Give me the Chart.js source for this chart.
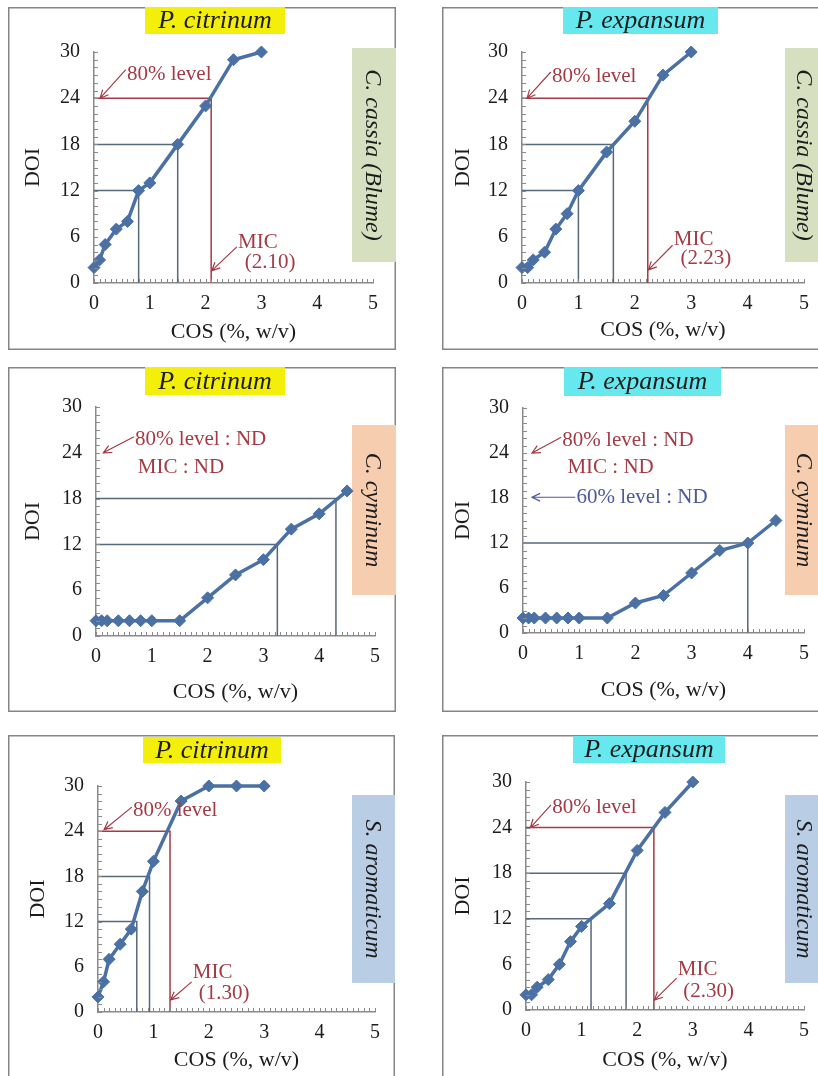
<!DOCTYPE html>
<html>
<head>
<meta charset="utf-8">
<script src="https://cdn.jsdelivr.net/npm/chart.js@4.4.1/dist/chart.umd.min.js"></script>
<style>
  html, body { margin: 0; padding: 0; background: #fff; overflow: hidden; }
  #page { position: relative; width: 818px; height: 1076px; overflow: hidden; }
  #page canvas { position: absolute; }
</style>
</head>
<body>
<div id="page"></div>
<script>
// COS concentrations (%, w/v)
const cosShort = [0, 0.1, 0.2, 0.4, 0.6, 0.8, 1, 1.5, 2, 2.5, 3];
const cosLong = [0, 0.1, 0.2, 0.4, 0.6, 0.8, 1, 1.5, 2, 2.5, 3, 3.5, 4, 4.5];

// DOI values per fungus / oil
const doiCitrinumCassia = [2, 3, 5, 7, 8, 12, 13, 18, 23, 29, 30];
const doiExpansumCassia = [2, 2, 3, 4, 7, 9, 12, 17, 21, 27, 30];
const doiCitrinumCyminum = [2, 2, 2, 2, 2, 2, 2, 2, 5, 8, 10, 14, 16, 19];
const doiExpansumCyminum = [2, 2, 2, 2, 2, 2, 2, 2, 4, 5, 8, 11, 12, 15];
const doiCitrinumAromaticum = [2, 4, 7, 9, 11, 16, 20, 28, 30, 30, 30];
const doiExpansumAromaticum = [2, 2, 3, 4, 6, 9, 11, 14, 21, 26, 30];

// 80%, 60%, 40% DOI levels and the COS where each is reached (null = not reached)
const levelDoi = [24, 18, 12];
const levelCosCitrinumCassia = [2.10, 1.5, 0.8];
const levelCosExpansumCassia = [2.23, 1.62, 1.0];
const levelCosCitrinumCyminum = [null, 4.3, 3.25];
const levelCosExpansumCyminum = [null, null, 4.0];
const levelCosCitrinumAromaticum = [1.30, 0.93, 0.7];
const levelCosExpansumAromaticum = [2.30, 1.8, 1.17];

// axes
const cosMax = 5, cosStep = 1;
const doiMax = 30, doiStep = 6;

const serif = '"Liberation Serif", "Times New Roman", serif';
const lineBlue = '#4a70a4';
const red = '#a33b46';
const refGray = '#56697a';
const axisGray = '#8a8a8a';
const ink = '#1c1c1c';

const panels = [
  { fungus: 'P. citrinum', oil: 'C. cassia (Blume)', cos: cosShort, doi: doiCitrinumCassia, levels: levelCosCitrinumCassia,
    box: [8, 7, 396, 350], plot: [94, 52, 373, 283], doiX: 33, cosY: 332,
    tag: [145, 7, 285, 34], tagColor: '#f3ef0a', side: [352, 48, 393, 262], sideColor: '#d6e0c1',
    notes: [['80% level', 0.59, 27.1, red], ['MIC', 2.58, 5.3, red], ['(2.10)', 2.7, 2.7, red]],
    arrows: [[0.57, 27.7, 0.11, 24.0, red], [2.56, 4.7, 2.11, 1.6, red]] },
  { fungus: 'P. expansum', oil: 'C. cassia (Blume)', cos: cosShort, doi: doiExpansumCassia, levels: levelCosExpansumCassia,
    box: [442, 7, 860, 350], plot: [522, 52, 812, 283], doiX: 463, cosY: 330,
    tag: [563, 7, 718, 34], tagColor: '#66e8ee', side: [785, 48, 822, 262], sideColor: '#d6e0c1',
    notes: [['80% level', 0.53, 26.8, red], ['MIC', 2.69, 5.6, red], ['(2.23)', 2.81, 3.2, red]],
    arrows: [[0.51, 27.4, 0.09, 24.0, red], [2.67, 4.9, 2.24, 1.7, red]] },
  { fungus: 'P. citrinum', oil: 'C. cyminum', cos: cosLong, doi: doiCitrinumCyminum, levels: levelCosCitrinumCyminum,
    box: [8, 367, 396, 712], plot: [96, 407, 375, 636], doiX: 33, cosY: 692,
    tag: [145, 367, 285, 395], tagColor: '#f3ef0a', side: [352, 425, 393, 595], sideColor: '#f7cdb0',
    notes: [['80% level : ND', 0.70, 25.7, red], ['MIC : ND', 0.75, 22.1, red]],
    arrows: [[0.68, 26.1, 0.13, 24.0, red]] },
  { fungus: 'P. expansum', oil: 'C. cyminum', cos: cosLong, doi: doiExpansumCyminum, levels: levelCosExpansumCyminum,
    box: [442, 367, 860, 712], plot: [523, 408, 807, 633], doiX: 463, cosY: 690,
    tag: [564, 367, 721, 396], tagColor: '#66e8ee', side: [785, 425, 822, 595], sideColor: '#f7cdb0',
    notes: [['80% level : ND', 0.70, 25.7, red], ['MIC : ND', 0.79, 22.1, red], ['60% level : ND', 0.95, 18.1, '#4a5a9a']],
    arrows: [[0.68, 26.1, 0.16, 24.0, red], [0.93, 18.1, 0.16, 18.1, '#4a5a9a']] },
  { fungus: 'P. citrinum', oil: 'S. aromaticum', cos: cosShort, doi: doiCitrinumAromaticum, levels: levelCosCitrinumAromaticum,
    box: [8, 735, 395, 1100], plot: [98, 786, 375, 1012], doiX: 38, cosY: 1060,
    tag: [143, 737, 281, 763], tagColor: '#f3ef0a', side: [352, 795, 393, 983], sideColor: '#b9cde5',
    notes: [['80% level', 0.63, 26.8, red], ['MIC', 1.71, 5.3, red], ['(1.30)', 1.82, 2.5, red]],
    arrows: [[0.61, 27.2, 0.11, 24.2, red], [1.69, 4.0, 1.31, 1.6, red]] },
  { fungus: 'P. expansum', oil: 'S. aromaticum', cos: cosShort, doi: doiExpansumAromaticum, levels: levelCosExpansumAromaticum,
    box: [442, 735, 860, 1100], plot: [526, 782, 812, 1010], doiX: 463, cosY: 1060,
    tag: [573, 736, 725, 763], tagColor: '#66e8ee', side: [785, 795, 822, 983], sideColor: '#b9cde5',
    notes: [['80% level', 0.47, 26.7, red], ['MIC', 2.73, 5.3, red], ['(2.30)', 2.83, 2.4, red]],
    arrows: [[0.45, 27.0, 0.08, 24.0, red], [2.71, 4.2, 2.31, 1.3, red]] }
];

function drawArrow(ctx, x1, y1, x2, y2, color) {
  const ang = Math.atan2(y2 - y1, x2 - x1);
  const len = 9, spread = 0.45;
  ctx.strokeStyle = color;
  ctx.lineWidth = 1.2;
  ctx.beginPath();
  ctx.moveTo(x1, y1);
  ctx.lineTo(x2, y2);
  ctx.moveTo(x2 - len * Math.cos(ang - spread), y2 - len * Math.sin(ang - spread));
  ctx.lineTo(x2, y2);
  ctx.lineTo(x2 - len * Math.cos(ang + spread), y2 - len * Math.sin(ang + spread));
  ctx.stroke();
}

function decor(p) {
  return {
    id: 'decor',
    beforeDraw(chart) {
      const ctx = chart.ctx;
      const [bl, bt, br, bb] = p.box;
      ctx.save();
      ctx.fillStyle = '#fff';
      ctx.fillRect(0, 0, chart.width, chart.height);
      ctx.strokeStyle = '#858585';
      ctx.lineWidth = 1.5;
      ctx.strokeRect(0.75, 0.75, br - bl - 1.5, bb - bt - 1.5);

      // fungus tag on top
      const [tl, tt, tr, tb] = p.tag;
      ctx.fillStyle = p.tagColor;
      ctx.fillRect(tl - bl, tt - bt, tr - tl, tb - tt);
      ctx.fillStyle = ink;
      ctx.font = 'italic 26px ' + serif;
      ctx.textAlign = 'center';
      ctx.textBaseline = 'middle';
      ctx.fillText(p.fungus, (tl + tr) / 2 - bl, (tt + tb) / 2 - bt + 1);

      // oil label on the right
      const [sl, st, sr, sb] = p.side;
      ctx.fillStyle = p.sideColor;
      ctx.fillRect(sl - bl, st - bt, Math.max(sr, 830) - sl, sb - st);
      ctx.fillStyle = ink;
      ctx.font = 'italic 24px ' + serif;
      ctx.translate((sl + sr) / 2 - bl, (st + sb) / 2 - bt);
      ctx.rotate(Math.PI / 2);
      ctx.fillText(p.oil, 0, 0);
      ctx.restore();
    },
    afterDraw(chart) {
      const ctx = chart.ctx;
      const xs = chart.scales.x, ys = chart.scales.y;
      ctx.save();
      // minor ticks, inside the axes
      ctx.strokeStyle = axisGray;
      ctx.lineWidth = 1;
      ctx.beginPath();
      for (let v = 0; v <= doiMax; v++) {
        const y = Math.round(ys.getPixelForValue(v)) + 0.5;
        ctx.moveTo(xs.left, y);
        ctx.lineTo(xs.left + 4, y);
      }
      for (let k = 0; k <= cosMax * 10; k++) {
        const x = Math.round(xs.getPixelForValue(k / 10)) + 0.5;
        ctx.moveTo(x, ys.bottom);
        ctx.lineTo(x, ys.bottom - 4);
      }
      ctx.stroke();

      ctx.font = '21px ' + serif;
      ctx.textAlign = 'left';
      ctx.textBaseline = 'middle';
      p.notes.forEach(([text, x, y, color]) => {
        ctx.fillStyle = color;
        ctx.fillText(text, xs.getPixelForValue(x), ys.getPixelForValue(y));
      });
      p.arrows.forEach(([x1, y1, x2, y2, color]) => {
        drawArrow(ctx, xs.getPixelForValue(x1), ys.getPixelForValue(y1),
          xs.getPixelForValue(x2), ys.getPixelForValue(y2), color);
      });
      ctx.restore();
    }
  };
}

const page = document.getElementById('page');
const titleLH = 22 * 1.2;

panels.forEach((p) => {
  const [bl, bt, br, bb] = p.box;
  const [pl, pt, pr, pb] = p.plot;
  const w = Math.min(br, 818) - bl;
  const h = Math.min(bb, 1076) - bt;

  const canvas = document.createElement('canvas');
  canvas.width = w;
  canvas.height = h;
  canvas.style.left = bl + 'px';
  canvas.style.top = bt + 'px';
  canvas.style.width = w + 'px';
  canvas.style.height = h + 'px';
  page.appendChild(canvas);

  const padLeft = p.doiX - bl - titleLH / 2;
  const yW = pl - bl - padLeft;
  const xH = p.cosY - pb + titleLH / 2;
  const padBottom = h - (pb - bt) - xH;
  const padRight = w - (pr - bl);

  const datasets = [{
    data: p.cos.map((x, k) => ({ x, y: p.doi[k] })),
    borderColor: lineBlue,
    backgroundColor: lineBlue,
    borderWidth: 3.5,
    pointStyle: 'rectRot',
    pointRadius: 6,
    pointBorderWidth: 1,
    pointBackgroundColor: lineBlue,
    pointBorderColor: lineBlue,
    tension: 0,
    clip: false,
    order: 0
  }];
  levelDoi.forEach((lv, k) => {
    const c = p.levels[k];
    if (c == null) return;
    datasets.push({
      data: [{ x: 0, y: lv }, { x: c, y: lv }, { x: c, y: 0 }],
      borderColor: k === 0 ? red : refGray,
      borderWidth: 1.5,
      pointRadius: 0,
      tension: 0,
      clip: false,
      order: 1
    });
  });

  new Chart(canvas, {
    type: 'line',
    data: { datasets },
    options: {
      responsive: false,
      animation: false,
      devicePixelRatio: 1,
      layout: { padding: { left: padLeft, right: padRight, top: pt - bt, bottom: padBottom } },
      plugins: { legend: { display: false }, tooltip: { enabled: false } },
      scales: {
        x: {
          type: 'linear',
          min: 0,
          max: cosMax,
          ticks: { stepSize: cosStep, padding: 9, color: ink, font: { family: serif, size: 20 } },
          grid: { display: false, drawTicks: false },
          border: { color: axisGray, width: 1.5 },
          title: { display: true, text: 'COS (%, w/v)', color: ink, padding: 0, font: { family: serif, size: 22 } },
          afterFit: (s) => { s.height = xH; }
        },
        y: {
          min: 0,
          max: doiMax,
          ticks: { stepSize: doiStep, padding: 14, color: ink, font: { family: serif, size: 20 } },
          grid: { display: false, drawTicks: false },
          border: { color: axisGray, width: 1.5 },
          title: { display: true, text: 'DOI', color: ink, padding: 0, font: { family: serif, size: 22 } },
          afterFit: (s) => { s.width = yW; }
        }
      }
    },
    plugins: [decor(p)]
  });
});
</script>
</body>
</html>
